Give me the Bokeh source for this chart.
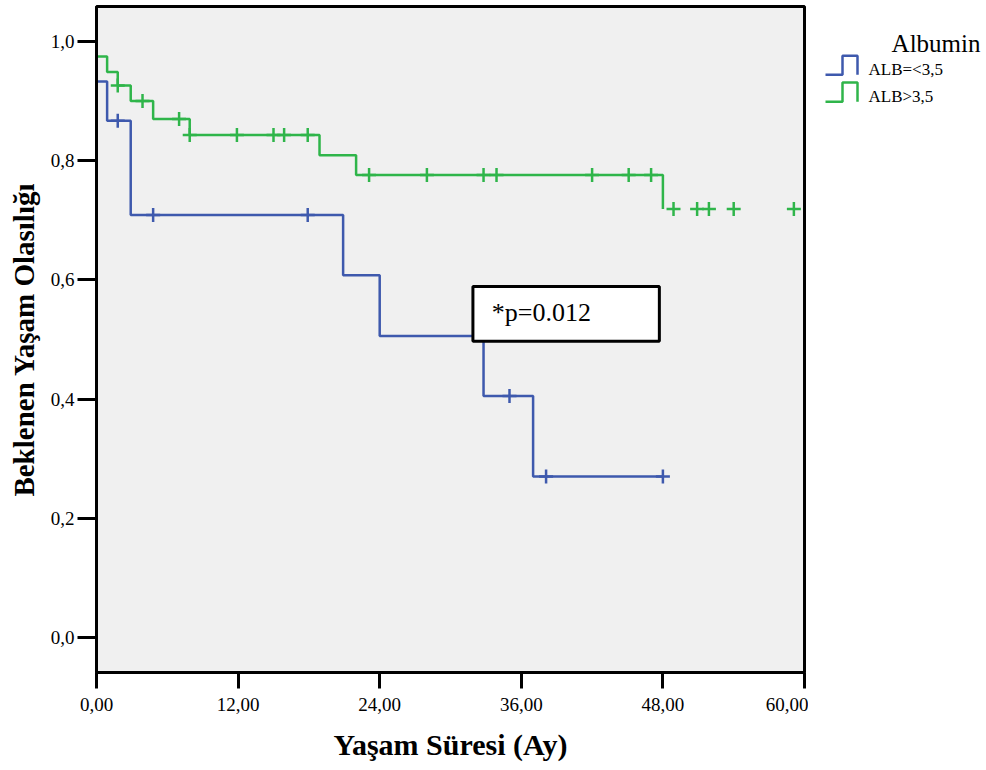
import numpy as np
from bokeh.plotting import figure
from bokeh.models import Range1d, FixedTicker, BoxAnnotation, Label
from bokeh.layouts import row
from bokeh.embed import file_html
from bokeh.resources import INLINE
from bokeh.core.properties import value

# ---------------- data ----------------
x_ticks = [0, 12, 24, 36, 48, 60]
x_tick_labels = ["0,00", "12,00", "24,00", "36,00", "48,00", "60,00"]
y_ticks = [0.0, 0.2, 0.4, 0.6, 0.8, 1.0]
y_tick_labels = ["0,0", "0,2", "0,4", "0,6", "0,8", "1,0"]

legend_title = "Albumin"
group_names = ["ALB=<3,5", "ALB>3,5"]
x_title = "Yaşam Süresi (Ay)"
y_title = "Beklenen Yaşam Olasılığı"
p_text = "*p=0.012"

# ALB=<3,5 : step curve (time in months, survival)
low_step_t = [0.0, 0.9, 2.9, 20.9, 24.0, 32.8, 37.0, 48.0]
low_step_s = [0.933, 0.867, 0.709, 0.608, 0.506, 0.405, 0.270, 0.270]
low_cens_t = [1.8, 4.8, 17.9, 35.0, 38.1, 48.0]

# ALB>3,5 : step curve
high_step_t = [0.0, 0.9, 1.8, 2.9, 4.8, 7.9, 18.9, 22.0, 48.0]
high_step_s = [0.975, 0.949, 0.926, 0.900, 0.870, 0.843, 0.809, 0.776, 0.719]
high_cens_t = [1.8, 3.9, 7.0, 7.9, 11.9, 15.0, 15.9, 17.9, 23.1, 28.0, 32.8,
               33.9, 42.0, 45.1, 47.0, 48.9, 50.9, 51.9, 54.0, 59.1]

# p-value box (data coordinates)
p_box = dict(left=31.9, right=47.7, bottom=0.497, top=0.589)
p_text_pos = (33.5, 0.545)

BLUE = "#3e59ad"
GREEN = "#2fb54a"
FONT = "Liberation Serif"


def surv_at(step_t, step_s, t):
    idx = np.searchsorted(np.array(step_t), np.array(t), side="right") - 1
    return list(np.array(step_s)[idx])


low_cens_s = surv_at(low_step_t, low_step_s, low_cens_t)
high_cens_s = surv_at(high_step_t, high_step_s, high_cens_t)

# ---------------- main figure ----------------
p = figure(width=808, height=770,
           x_range=Range1d(0, 60), y_range=Range1d(-0.0587, 1.0587),
           output_backend="svg", toolbar_location=None,
           min_border_left=96, min_border_right=4, min_border_top=6,
           min_border_bottom=98,
           background_fill_color="#f0f0f0", border_fill_color="white",
           outline_line_color="black", outline_line_width=3)
p.grid.visible = False

p.step(low_step_t, low_step_s, mode="after", line_color=BLUE, line_width=2.5)
p.step(high_step_t, high_step_s, mode="after", line_color=GREEN, line_width=2.5)
p.scatter(low_cens_t, low_cens_s, marker="cross", size=14, line_color=BLUE, line_width=2.5)
p.scatter(high_cens_t, high_cens_s, marker="cross", size=14, line_color=GREEN, line_width=2.5)

p.add_layout(BoxAnnotation(fill_color="white", fill_alpha=1.0, line_color="black",
                           line_width=3, line_alpha=1.0, **p_box))
p.add_layout(Label(x=p_text_pos[0], y=p_text_pos[1], text=p_text,
                   text_baseline="middle", text_align="left",
                   text_font=FONT, text_font_size="26px", text_color="black"))

for ax in (p.xaxis[0], p.yaxis[0]):
    ax.axis_line_color = "black"
    ax.axis_line_width = 3
    ax.major_tick_line_color = "black"
    ax.major_tick_line_width = 3
    ax.major_tick_in = 0
    ax.minor_tick_line_color = None
    ax.major_label_text_font = FONT
    ax.major_label_text_font_size = "19px"
    ax.major_label_text_color = "black"
    ax.axis_label_text_font = FONT
    ax.axis_label_text_font_style = "bold"
    ax.axis_label_text_color = "black"

p.xaxis.ticker = FixedTicker(ticks=x_ticks)
p.xaxis.major_label_overrides = dict(zip(x_ticks, x_tick_labels))
p.xaxis.major_tick_out = 16
p.xaxis.major_label_standoff = 9
p.xaxis.axis_label = x_title
p.xaxis.axis_label_text_font_size = "30px"
p.xaxis.axis_label_standoff = 14

p.yaxis.ticker = FixedTicker(ticks=y_ticks)
p.yaxis.major_label_overrides = dict(zip(y_ticks, y_tick_labels))
p.yaxis.major_tick_out = 19
p.yaxis.major_label_standoff = 3
p.yaxis.axis_label = y_title
p.yaxis.axis_label_text_font_size = "29px"
p.yaxis.axis_label_standoff = 8

# ---------------- legend figure ----------------
leg = figure(width=178, height=770, x_range=Range1d(0, 178), y_range=Range1d(770, 0),
             output_backend="svg", toolbar_location=None, min_border=0,
             outline_line_color=None, x_axis_location=None, y_axis_location=None,
             background_fill_color="white", border_fill_color="white")
leg.grid.visible = False

icon_x = [17, 34, 34, 49, 49]
icon_rel_y = [0, 0, -22, -22, 0]
leg.line(icon_x, [79 + d for d in icon_rel_y], line_color=BLUE, line_width=2.5)
leg.line(icon_x, [110 + d for d in icon_rel_y], line_color=GREEN, line_width=2.5)
leg.text([60, 60], [73, 104], text=group_names, text_font=value(FONT),
         text_font_size="17px", text_baseline="alphabetic", text_color="black")
leg.text([172], [43], text=[legend_title], text_font=value(FONT),
         text_font_size="25px", text_align="right", text_baseline="alphabetic",
         text_color="black")

layout = row(p, leg)
open("out.html", "w").write(file_html(layout, INLINE))
